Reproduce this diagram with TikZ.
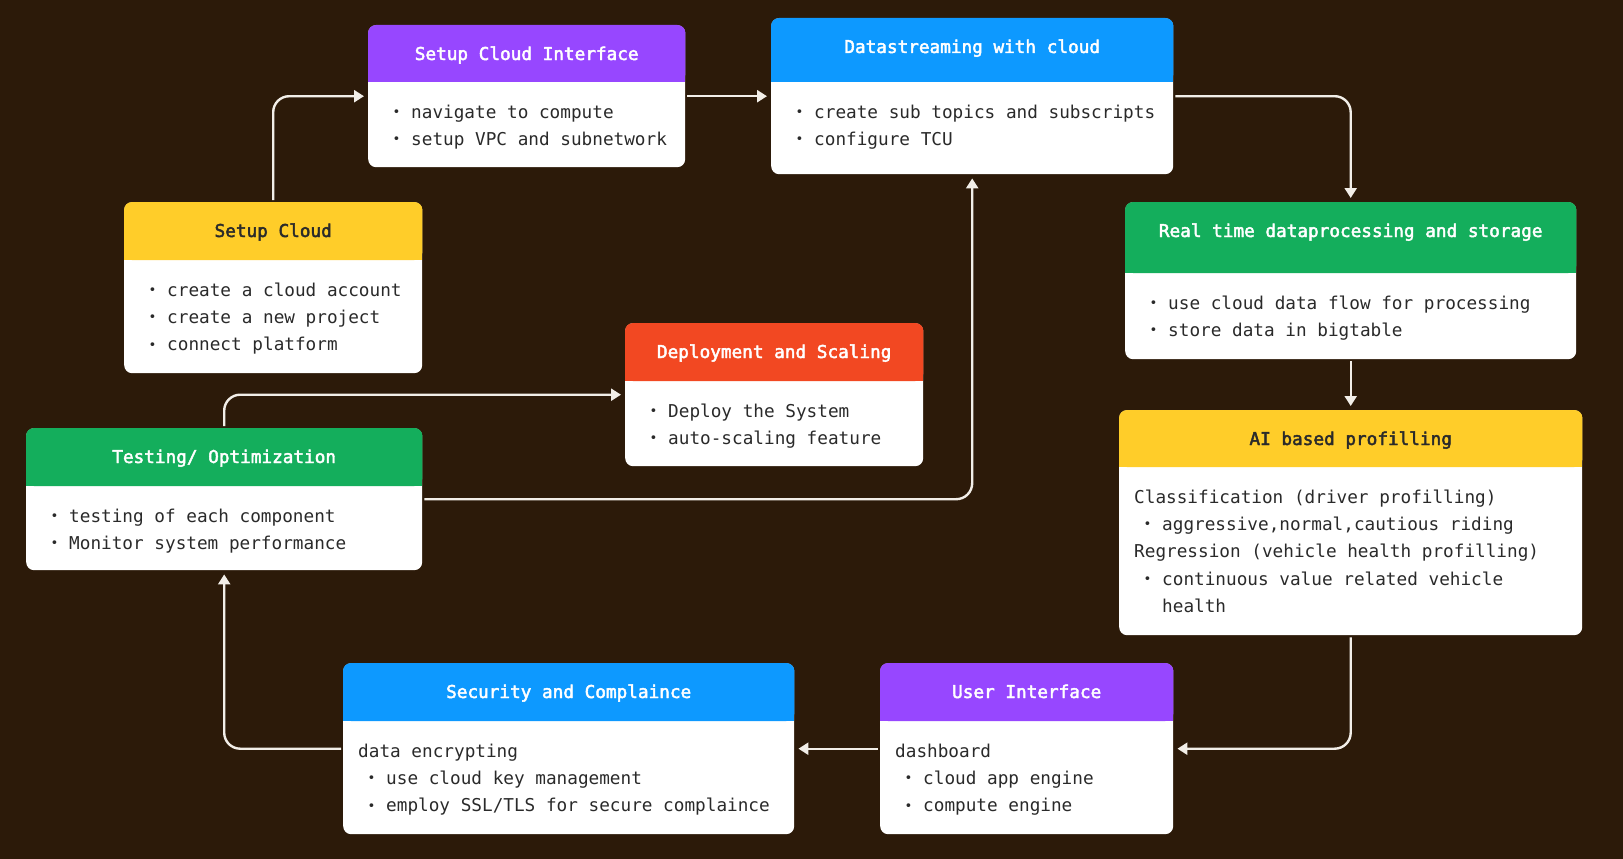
\documentclass[tikz,border=0pt]{standalone}
\usepackage{fontspec}
\usepackage{tikz}
\usetikzlibrary{arrows.meta}
\newfontfamily\monofont{DejaVu Sans Mono}
\newfontfamily\headfont[FakeBold=2.5]{DejaVu Sans Mono}
\definecolor{bg}{HTML}{2C1A09}
\definecolor{ink}{HTML}{2A2A2A}
\definecolor{wire}{HTML}{F2EEE8}
\definecolor{cyellow}{HTML}{FFCD29}
\definecolor{cpurple}{HTML}{9747FF}
\definecolor{cblue}{HTML}{0D99FF}
\definecolor{cgreen}{HTML}{14AE5C}
\definecolor{cred}{HTML}{F24822}
\tikzset{
  card/.style={rectangle,fill=white,rounded corners=8pt,inner sep=0pt,anchor=north west},
  cardtitle/.style={anchor=base,inner sep=0pt,font=\headfont\fontsize{17.7}{21}\selectfont},
  cardtext/.style={anchor=north west,inner sep=0pt,align=left,text=ink,font=\monofont\fontsize{17.7}{27.3}\selectfont},
  flow/.style={draw=wire,line width=2.4pt,rounded corners=16pt,shorten <=2pt,shorten >=4pt,-{Triangle[length=10pt,width=12pt]}}
}
% bullet item
\newcommand{\itm}{\makebox[28pt][l]{\hspace{9.5pt}\raisebox{1.6pt}{\fontsize{13}{13}\selectfont•}}}
% name, top left, width, height, head height, colour, title colour, title, text
\newcommand{\card}[9]{%
  \node[card,minimum width=#3,minimum height=#4] (#1) at #2 {};
  \fill[#6,rounded corners=8pt] (#1.north west) rectangle ([yshift=-#5]#1.north east);
  \fill[#6] ([yshift=-#5+8pt]#1.north west) rectangle ([yshift=-#5]#1.north east);
  \node[cardtitle,text=#7] (#1-t) at ([yshift=-35pt]#1.north) {#8};
  \node[cardtext] (#1-b) at ([xshift=15pt,yshift=-#5-21pt]#1.north west) {\rule{0pt}{15pt}#9};
}

\begin{document}
\begin{tikzpicture}[x=1pt,y=-1pt]
  \useasboundingbox (0,0) rectangle (1623,859);
  \fill[bg] (0,0) rectangle (1623,859);
  \card{sc}{(124,202)}{298pt}{171pt}{58pt}{cyellow}{ink}{Setup Cloud}
    {\itm create a cloud account\\\itm create a new project\\\itm connect platform}
  \card{sci}{(368,25)}{317pt}{142pt}{57pt}{cpurple}{white}{Setup Cloud Interface}
    {\itm navigate to compute\\\itm setup VPC and subnetwork}
  \card{ds}{(771,18)}{402pt}{156pt}{64pt}{cblue}{white}{Datastreaming with cloud}
    {\itm create sub topics and subscripts\\\itm configure TCU}
  \card{rt}{(1125,202)}{451pt}{157pt}{71pt}{cgreen}{white}{Real time dataprocessing and storage}
    {\itm use cloud data flow for processing\\\itm store data in bigtable}
  \card{ai}{(1119,410)}{463pt}{225pt}{57pt}{cyellow}{ink}{AI based profilling}
    {Classification (driver profilling)\\\itm aggressive,normal,cautious riding\\Regression (vehicle health profilling)\\\itm continuous value related vehicle\\\hspace*{28pt}health}
  \card{ui}{(880,663)}{293pt}{171pt}{58pt}{cpurple}{white}{User Interface}
    {dashboard\\\itm cloud app engine\\\itm compute engine}
  \card{sec}{(343,663)}{451pt}{171pt}{58pt}{cblue}{white}{Security and Complaince}
    {data encrypting\\\itm use cloud key management\\\itm employ SSL/TLS for secure complaince}
  \card{test}{(26,428)}{396pt}{142pt}{58pt}{cgreen}{white}{Testing/ Optimization}
    {\itm testing of each component\\\itm Monitor system performance}
  \card{dep}{(625,323)}{298pt}{143pt}{58pt}{cred}{white}{Deployment and Scaling}
    {\itm Deploy the System\\\itm auto-scaling feature}
  \draw[flow] (sc.north) |- (sci.west);
  \draw[flow] (sci.east) -- (ds.west);
  \draw[flow] (ds.east) -| (rt.north);
  \draw[flow] (rt.south) -- (ai.north);
  \draw[flow] (ai.south) |- (ui.east);
  \draw[flow] (ui.west) -- (sec.east);
  \draw[flow] (sec.west) -| (test.south);
  \draw[flow] (test.north) |- (dep.west);
  \draw[flow] (test.east) -| (ds.south);
\end{tikzpicture}
\end{document}
